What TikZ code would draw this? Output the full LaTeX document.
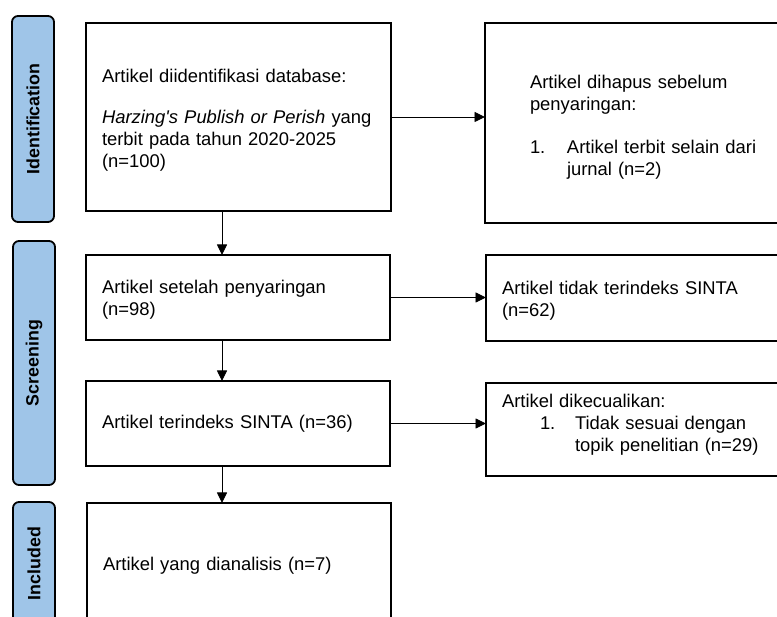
\documentclass[tikz,border=0pt]{standalone}
\usepackage{fontspec}
\newfontfamily\arial{Liberation Sans}
\usetikzlibrary{arrows.meta,calc}
\definecolor{tabblue}{RGB}{159,197,232}
\tikzset{
  box/.style={draw, line width=1.8pt, rectangle, inner sep=0pt, outer sep=0pt, anchor=north west},
  txt/.style={anchor=base west, align=left, inner sep=0pt, outer sep=0pt, text width=#1,
    font=\arial\fontsize{18.4}{21.6}\selectfont},
  tab/.style={draw, line width=1.8pt, fill=tabblue, rounded corners=6pt, inner sep=0pt,
    rotate=90, font=\arial\bfseries\fontsize{17.8}{20}\selectfont},
  arr/.style={-{Triangle[length=10.5pt,width=10pt]}, line width=0.9pt}
}
\begin{document}
\begin{tikzpicture}[x=1pt,y=-1pt]
\useasboundingbox (0,0) rectangle (777,617);
\clip (0,0) rectangle (777,617);
% phase tabs
\node[tab, minimum width=206, minimum height=42] (tab1) at (33,119) {Identification};
\node[tab, minimum width=244, minimum height=42] (tab2) at (34,363) {Screening};
\node[tab, minimum width=123, minimum height=42] (tab3) at (34,563.5) {Included};
% boxes
\node[box, minimum width=305, minimum height=188] (b1) at (86,23) {};
\node[box, minimum width=310, minimum height=200] (b2) at (485,23) {};
\node[box, minimum width=304, minimum height=85] (b3) at (86,255) {};
\node[box, minimum width=304, minimum height=85] (b4) at (86,381) {};
\node[box, minimum width=310, minimum height=86] (b5) at (486,255) {};
\node[box, minimum width=310, minimum height=93] (b6) at (486,383) {};
\node[box, minimum width=304, minimum height=125] (b7) at (87,503) {};
% texts
\node[txt=280pt] (t1) at (102,83) {Artikel diidentifikasi database:\\[19.4pt]
  \textit{Harzing's Publish or Perish} yang\\ terbit pada tahun 2020-2025\\ (n=100)};
\node[txt=260pt] (t2) at (530,89) {Artikel dihapus sebelum\\ penyaringan:\\[21.4pt]
  \makebox[37pt][l]{1.}Artikel terbit selain dari\\ \hspace*{37pt}jurnal (n=2)};
\node[txt=280pt] (t3) at (102,294) {Artikel setelah penyaringan\\ (n=98)};
\node[txt=280pt] (t4) at (102,429) {Artikel terindeks SINTA (n=36)};
\node[txt=270pt] (t5) at (502,295) {Artikel tidak terindeks SINTA\\ (n=62)};
\node[txt=270pt] (t6) at (502,408) {Artikel dikecualikan:\\
  \hspace*{38pt}\makebox[35pt][l]{1.}Tidak sesuai dengan\\ \hspace*{73pt}topik penelitian (n=29)};
\node[txt=280pt] (t7) at (103,570) {Artikel yang dianalisis (n=7)};
% connectors
\coordinate (v1) at ([xshift=136pt]b1.south west);
\coordinate (v3) at ([xshift=136pt]b3.south west);
\coordinate (v4) at ([xshift=136pt]b4.south west);
\draw[arr] (v1) -- (v1 |- b3.north);
\draw[arr] (v3) -- (v3 |- b4.north);
\draw[arr] (v4) -- (v4 |- b7.north);
\draw[arr] (b1.east) -- (b1.east -| b2.west);
\draw[arr] (b3.east) -- (b3.east -| b5.west);
\draw[arr] (b4.east) -- (b4.east -| b6.west);
\end{tikzpicture}
\end{document}
